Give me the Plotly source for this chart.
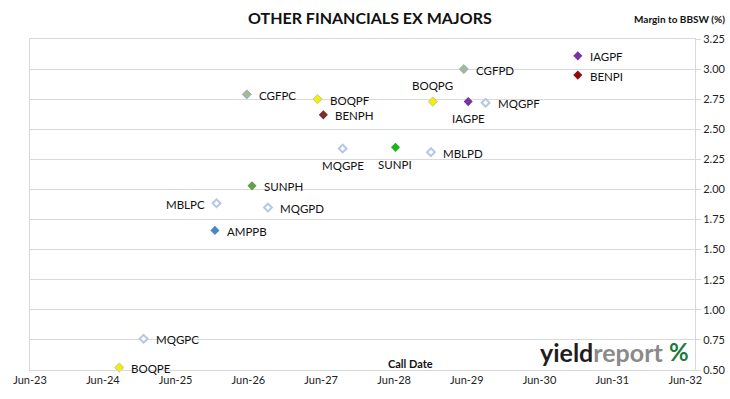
import plotly.graph_objects as go

# ---- data ----
codes = ["CGFPC", "BOQPF", "BENPH", "MQGPE", "SUNPH", "MBLPC", "MQGPD", "AMPPB",
         "MQGPC", "BOQPE", "CGFPD", "BOQPG", "IAGPE", "MQGPF", "SUNPI", "MBLPD",
         "IAGPF", "BENPI"]
call_dates = ["2026-05-24", "2027-05-14", "2027-06-12", "2027-09-17", "2026-06-19",
              "2025-12-23", "2026-09-07", "2025-12-15", "2024-12-22", "2024-08-22",
              "2029-05-17", "2028-12-12", "2029-06-08", "2029-09-03", "2028-06-08",
              "2028-12-03", "2030-12-10", "2030-12-10"]
margins = [2.79, 2.75, 2.62, 2.34, 2.03, 1.885, 1.85, 1.66, 0.76, 0.52,
           3.00, 2.73, 2.73, 2.72, 2.35, 2.31, 3.11, 2.95]
x_tick_dates = ["2023-06-01", "2024-06-01", "2025-06-01", "2026-06-01", "2027-06-01",
                "2028-06-01", "2029-06-01", "2030-06-01", "2031-06-01", "2032-06-01"]
x_tick_labels = ["Jun-23", "Jun-24", "Jun-25", "Jun-26", "Jun-27",
                 "Jun-28", "Jun-29", "Jun-30", "Jun-31", "Jun-32"]
y_ticks = [0.50, 0.75, 1.00, 1.25, 1.50, 1.75, 2.00, 2.25, 2.50, 2.75, 3.00, 3.25]

# ---- styles ----
styles = {
    "CGFPC": dict(color="#a9b88a", line=dict(color="#8fb3d9", width=1)),
    "CGFPD": dict(color="#a9b88a", line=dict(color="#8fb3d9", width=1)),
    "BOQPE": dict(color="#f0f000", line=dict(color="#c4c49a", width=1)),
    "BOQPF": dict(color="#f0f000", line=dict(color="#c4c49a", width=1)),
    "BOQPG": dict(color="#f0f000", line=dict(color="#c4c49a", width=1)),
    "BENPH": dict(color="#7a2e2e", line=dict(color="#7a2e2e", width=0)),
    "BENPI": dict(color="#8e0c0c", line=dict(color="#8e0c0c", width=0)),
    "SUNPH": dict(color="#62a043", line=dict(color="#62a043", width=0)),
    "SUNPI": dict(color="#1db31d", line=dict(color="#1db31d", width=0)),
    "AMPPB": dict(color="#4a86c8", line=dict(color="#4a86c8", width=0)),
    "IAGPE": dict(color="#7434a6", line=dict(color="#7434a6", width=0)),
    "IAGPF": dict(color="#7434a6", line=dict(color="#7434a6", width=0)),
}
hollow = dict(color="white", line=dict(color="#b4c7e7", width=2))
label_pos = {"MQGPE": "below", "SUNPI": "below", "IAGPE": "below",
             "BOQPG": "above", "MBLPC": "left"}

W, H = 730, 399
L, R, T, B = 30, 35, 39, 29
PW, PH = W - L - R, H - T - B


def px(x):
    return (x - L) / PW


def py(y):
    return (H - B - y) / PH


fig = go.Figure()
label_anns = []
for code, d, m in zip(codes, call_dates, margins):
    st = styles.get(code, hollow)
    hol = code not in styles
    fig.add_trace(go.Scatter(
        x=[d], y=[m], mode="markers",
        marker=dict(symbol="diamond", size=6 if hol else 7, color=st["color"], line=st["line"]),
        showlegend=False, name=code, cliponaxis=False,
    ))
    pos = label_pos.get(code, "right")
    a = dict(x=d, y=m, xref="x", yref="y", text=code, showarrow=False,
             font=dict(family="Lato", size=11.5, color="#111111"))
    if pos == "right":
        a.update(xanchor="left", yanchor="middle", xshift=10, yshift=-1)
    elif pos == "left":
        a.update(xanchor="right", yanchor="middle", xshift=-10, yshift=-1)
    elif pos == "below":
        a.update(xanchor="center", yanchor="middle", yshift=-17)
    else:
        a.update(xanchor="center", yanchor="middle", yshift=16)
    label_anns.append(a)

fig.update_layout(
    width=W, height=H,
    margin=dict(l=L, r=R, t=T, b=B, autoexpand=False),
    paper_bgcolor="white", plot_bgcolor="white",
    font=dict(family="Lato", size=11, color="#222222"),
    xaxis=dict(
        type="date", range=["2023-06-01", "2032-07-20"],
        tickvals=x_tick_dates, ticktext=x_tick_labels, automargin=False,
        showgrid=False, zeroline=False,
        showline=True, linecolor="#d9d9d9", linewidth=1, mirror=True,
        ticks="", tickfont=dict(family="Lato", size=11, color="#222222"),
    ),
    yaxis=dict(
        side="right", range=[0.5, 3.25], tickvals=y_ticks, tickformat=".2f",
        automargin=False,
        showgrid=True, gridcolor="#d9d9d9", gridwidth=1, zeroline=False,
        showline=True, linecolor="#d9d9d9", linewidth=1, mirror=True,
        ticks="outside", ticklen=5, tickcolor="#d9d9d9",
        tickfont=dict(family="Lato", size=11, color="#222222"),
    ),
    annotations=label_anns + [
        dict(text="<b>OTHER FINANCIALS EX MAJORS</b>", x=px(370), y=py(18),
             xref="paper", yref="paper", showarrow=False,
             font=dict(family="Lato", size=16, color="#111111"),
             xanchor="center", yanchor="middle"),
        dict(text="<b>Margin to BBSW (%)</b>", x=px(727), y=py(19),
             xref="paper", yref="paper", showarrow=False,
             font=dict(family="Lato", size=10, color="#111111"),
             xanchor="right", yanchor="middle"),
        dict(text="<b>Call Date</b>", x=px(411), y=py(363),
             xref="paper", yref="paper", showarrow=False,
             font=dict(family="Lato", size=11, color="#111111"),
             xanchor="center", yanchor="middle"),
        dict(text="<b><span style='color:#1e1e1e'>yield</span><span style='color:#8a8a8a'>report</span></b>",
             x=px(538), y=py(352), xref="paper", yref="paper", showarrow=False,
             font=dict(family="Lato", size=25), xanchor="left", yanchor="middle"),
        dict(text="<b>%</b>", x=px(667), y=py(351), xref="paper", yref="paper",
             showarrow=False, font=dict(family="Lato", size=24, color="#1d7a3c"),
             xanchor="left", yanchor="middle"),
    ],
)

fig.write_html("out.html", config={"displayModeBar": False},
               post_script="document.body.style.margin='0';document.body.style.padding='0';")
